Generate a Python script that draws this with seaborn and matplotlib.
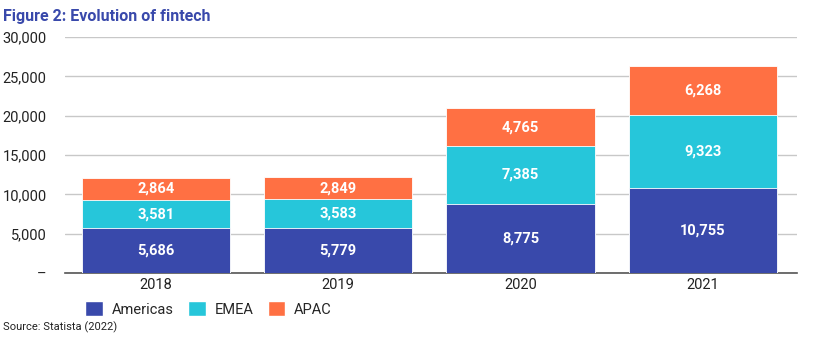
import matplotlib
matplotlib.use("Agg")
import matplotlib.pyplot as plt
import seaborn as sns
import pandas as pd
import numpy as np
from matplotlib.patches import Patch

years = ["2018", "2019", "2020", "2021"]
americas = [5686, 5779, 8775, 10755]
emea = [3581, 3583, 7385, 9323]
apac = [2864, 2849, 4765, 6268]
series_names = ["Americas", "EMEA", "APAC"]
colors = ["#3949AB", "#26C6DA", "#FF7043"]

sns.set_theme(style="white")
plt.rcParams["font.family"] = ["Roboto", "DejaVu Sans"]

am = np.array(americas)
em = np.array(emea)
ap = np.array(apac)
df = pd.DataFrame({"year": years, "a": am, "ae": am + em, "aea": am + em + ap})

fig = plt.figure(figsize=(8.3, 3.41), dpi=100)
ax = fig.add_axes([0.078, 0.1994, 0.882, 0.6921])

for col, c in zip(["aea", "ae", "a"], colors[::-1]):
    sns.barplot(data=df, x="year", y=col, color=c, width=0.813, ax=ax,
                saturation=1, edgecolor="white", linewidth=0.6, zorder=3)

ax.set_ylim(0, 30000)
ax.set_xlim(-0.5, 3.516)
ax.set_yticks(range(0, 30001, 5000))
ax.set_yticklabels(["–"] + [f"{v:,}" for v in range(5000, 30001, 5000)])
ax.yaxis.grid(True, color="#c8c8c8", linewidth=1.0, zorder=0)
ax.set_axisbelow(True)
for s in ["top", "right", "left"]:
    ax.spines[s].set_visible(False)
ax.spines["bottom"].set_color("#555555")
ax.spines["bottom"].set_linewidth(1.2)
ax.tick_params(axis="both", length=0, labelsize=10.5, colors="#222222")
ax.tick_params(axis="y", pad=13)
ax.set_xlabel("")
ax.set_ylabel("")

for i in range(len(years)):
    bottoms = [0, am[i], am[i] + em[i]]
    vals = [am[i], em[i], ap[i]]
    for b, v in zip(bottoms, vals):
        ax.text(i, b + v / 2, f"{v:,}", ha="center", va="center", color="white",
                fontsize=10.5, fontweight="bold", zorder=5)

handles = [Patch(facecolor=c, edgecolor="white", label=n) for n, c in zip(series_names, colors)]
fig.legend(handles=handles, loc="center left", bbox_to_anchor=(0.087, 0.094), ncol=3,
           frameon=False, fontsize=10.5, handlelength=1.2, handleheight=1.2,
           columnspacing=1.0, handletextpad=0.6)

fig.text(0.004, 0.975, "Figure 2: Evolution of fintech", color="#3949AB",
         fontsize=11.5, fontweight="bold", va="top", ha="left")
fig.text(0.004, 0.04, "Source: Statista (2022)", color="#222222", fontsize=8, va="center", ha="left")

fig.savefig("out.png", dpi=100)
